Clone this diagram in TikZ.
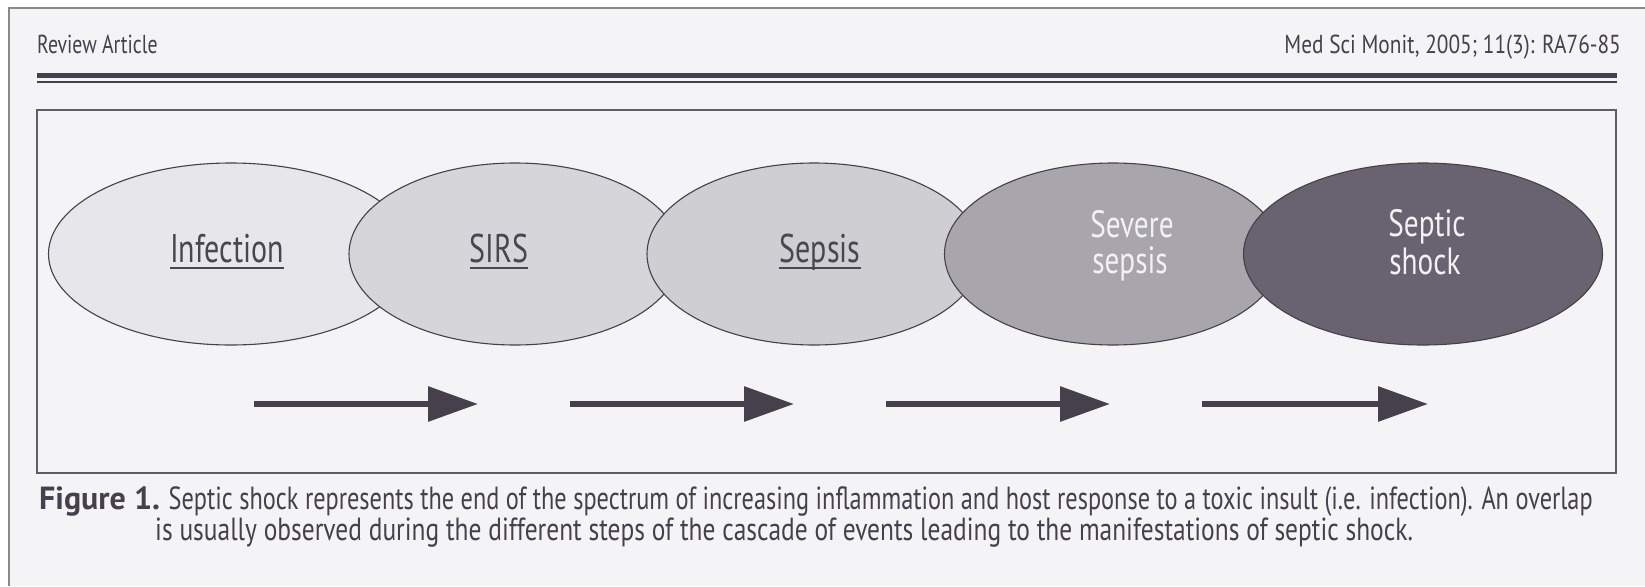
\documentclass[tikz,border=0pt]{standalone}
\usepackage{fontspec}
\setmainfont{PT Sans}
\newfontfamily\condfont[FakeStretch=0.76]{PT Sans}
\newfontfamily\condfontb[FakeStretch=0.795]{PT Sans}
\newfontfamily\hdrfont[FakeStretch=0.76]{PT Sans}
\newfontfamily\hdrfontb[FakeStretch=0.82]{PT Sans}
\newfontfamily\lblfont[FakeStretch=0.75]{PT Sans}
\newfontfamily\lbltwofont[FakeStretch=0.77]{PT Sans}
\usetikzlibrary{shapes.geometric,arrows.meta}
\definecolor{paper}{HTML}{F4F3F6}
\definecolor{ink}{HTML}{45404B}
\definecolor{frame}{HTML}{8A888D}
\definecolor{fillA}{HTML}{E7E6EA}
\definecolor{fillB}{HTML}{D6D5DA}
\definecolor{fillC}{HTML}{CFCED3}
\definecolor{fillD}{HTML}{A8A6AC}
\definecolor{fillE}{HTML}{696270}
\definecolor{darktext}{HTML}{4A4650}
\definecolor{lighttext}{HTML}{F2F1F4}
\tikzset{
  stage/.style={ellipse, draw=ink, line width=1.1pt, minimum height=182pt, inner sep=0pt},
  lbl/.style={font=\lblfont\fontsize{40}{40}\selectfont, inner sep=0pt, anchor=base},
  lightlbl/.style={lbl, font=\lbltwofont\fontsize{38}{38}\selectfont, text=lighttext},
  uline/.style={darktext, line width=1.6pt},
  arr/.style={ink, line width=6pt, -{Triangle[length=50pt, width=34pt]}},
  hdr/.style={text=ink, inner sep=0pt},
  captext/.style={font=\condfont\fontsize{32}{32}\selectfont, text=ink, inner sep=0pt, anchor=base west}
}
\begin{document}
\begin{tikzpicture}[x=1pt,y=-1pt]
\fill[white] (0,0) rectangle (1645,586);
\fill[paper] (9,8) rectangle (1645,586);
\useasboundingbox (0,0) rectangle (1645,586);
% scan frame
\draw[frame, line width=1.5pt] (9,586) -- (9,8) -- (1645,8);
% header
\node[hdr, font=\hdrfont\fontsize{26}{26}\selectfont, anchor=base west] (left) at (37,53) {Review Article};
\node[hdr, font=\hdrfontb\fontsize{26}{26}\selectfont, anchor=base east] (right) at (1621,53) {Med Sci Monit, 2005; 11(3): RA76-85};
\draw[ink, line width=5pt] (37,75) -- (1617,75);
\draw[ink, line width=2pt] (37,82) -- (1617,82);
% figure box
\draw[ink!85, line width=1.1pt] (37,110) rectangle (1616,473);
% ellipses
\node[stage, fill=fillA, minimum width=365pt] (inf) at (231,254) {};
\node[stage, fill=fillB, minimum width=332pt] (sirs) at (515,254) {};
\node[stage, fill=fillC, minimum width=334pt] (sep) at (814,254) {};
\node[stage, fill=fillD, minimum width=337pt] (sev) at (1113,254) {};
\node[stage, fill=fillE, minimum width=359pt] (sho) at (1423,254) {};
% labels
\node[lbl, text=darktext] (tinf) at (227,262) {Infection};
\node[lbl, text=darktext] (tsirs) at (499,262) {SIRS};
\node[lbl, text=darktext] (tsep) at (820,262) {Sepsis};
\draw[uline] ([yshift=-6pt]tinf.base west) -- ([yshift=-6pt]tinf.base east);
\draw[uline] ([yshift=-6pt]tsirs.base west) -- ([yshift=-6pt]tsirs.base east);
\draw[uline] ([yshift=-6pt]tsep.base west) -- ([yshift=-6pt]tsep.base east);
\node[lightlbl] (tsev1) at (1132,237) {Severe};
\node[lightlbl] (tsev2) at (1130,273) {sepsis};
\node[lightlbl] (tsho1) at (1427,236) {Septic};
\node[lightlbl] (tsho2) at (1425,274) {shock};
% arrows
\coordinate (a1s) at (254,404); \coordinate (a1e) at (478,404);
\coordinate (a2s) at (570,404); \coordinate (a2e) at (794,404);
\coordinate (a3s) at (886,404); \coordinate (a3e) at (1110,404);
\coordinate (a4s) at (1202,404); \coordinate (a4e) at (1428,404);
\draw[arr] (a1s) -- (a1e);
\draw[arr] (a2s) -- (a2e);
\draw[arr] (a3s) -- (a3e);
\draw[arr] (a4s) -- (a4e);
% caption
\node[captext] (cap1) at (39,509) {{\rmfamily\bfseries Figure 1.} Septic shock represents the end of the spectrum of increasing inflammation and host response to a toxic insult (i.e. infection). An overlap};
\node[captext, font=\condfontb\fontsize{32}{32}\selectfont] (cap2) at (155,540) {is usually observed during the different steps of the cascade of events leading to the manifestations of septic shock.};
\end{tikzpicture}
\end{document}
